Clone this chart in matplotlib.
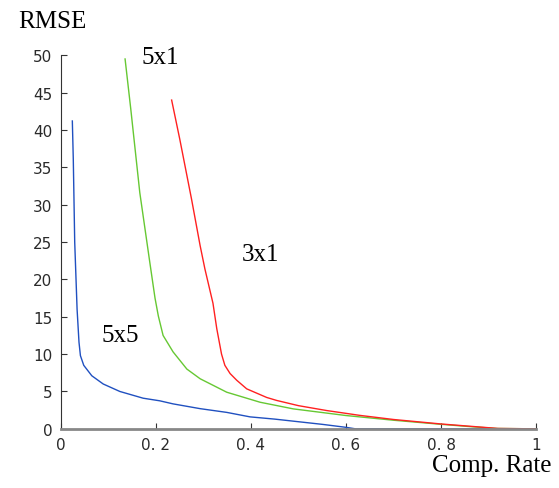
import numpy as np
import matplotlib.pyplot as plt

# RMSE vs compression rate
rate_5x5 = [0.024, 0.026, 0.029, 0.034, 0.038, 0.041, 0.048, 0.065, 0.089, 0.124,
            0.173, 0.208, 0.236, 0.293, 0.349, 0.398, 0.450, 0.500, 0.550, 0.600,
            0.620, 1.000]
rmse_5x5 = [41.2, 36.1, 25.0, 16.0, 11.6, 9.8, 8.5, 7.1, 6.0, 5.0,
            4.1, 3.75, 3.34, 2.7, 2.2, 1.6, 1.3, 0.95, 0.6, 0.2,
            0.0, 0.0]

rate_5x1 = [0.135, 0.147, 0.166, 0.187, 0.198, 0.205, 0.215, 0.236, 0.265, 0.293,
            0.349, 0.419, 0.489, 0.600, 0.700, 0.797, 0.860, 0.917, 1.000]
rmse_5x1 = [49.5, 42.8, 31.6, 22.3, 17.5, 15.1, 12.5, 10.3, 8.0, 6.7,
            4.9, 3.56, 2.67, 1.78, 1.15, 0.62, 0.3, 0.05, 0.0]

rate_3x1 = [0.233, 0.250, 0.275, 0.293, 0.303, 0.320, 0.328, 0.338, 0.345, 0.356,
            0.370, 0.391, 0.433, 0.454, 0.500, 0.559, 0.629, 0.700, 0.800, 0.920,
            1.000]
rmse_3x1 = [44.0, 38.8, 30.7, 24.5, 21.4, 16.8, 13.4, 10.0, 8.5, 7.4,
            6.5, 5.35, 4.2, 3.8, 3.1, 2.45, 1.8, 1.25, 0.65, 0.05,
            0.0]

x_ticks = [0, 0.2, 0.4, 0.6, 0.8, 1]
x_tick_labels = ["0", "0. 2", "0. 4", "0. 6", "0. 8", "1"]
y_ticks = [0, 5, 10, 15, 20, 25, 30, 35, 40, 45, 50]

fig = plt.figure(figsize=(5.59, 4.89), dpi=100)
ax = fig.add_axes([0.109, 0.121, 0.850, 0.764])

ax.plot(rate_5x5, rmse_5x5, color="#2050c0", lw=1.0)
ax.plot(rate_5x1, rmse_5x1, color="#66c833", lw=1.0)
ax.plot(rate_3x1, rmse_3x1, color="#ff2020", lw=1.0)

ax.set_xlim(0, 1)
ax.set_ylim(0, 50)
ax.set_xticks(x_ticks)
ax.set_xticklabels(x_tick_labels)
ax.set_yticks(y_ticks)
ax.tick_params(direction="in", length=4, labelsize=11, labelcolor="#2a2a2a",
               color="#333333", pad=6)
for s in ["top", "right"]:
    ax.spines[s].set_visible(False)
ax.spines["left"].set_color("#333333")
ax.spines["bottom"].set_color("#888888")
ax.spines["bottom"].set_linewidth(2)

serif = "Liberation Serif"
ax.text(0.208, 49.7, "5x1", fontsize=18, family=serif, ha="center", va="center")
ax.text(0.419, 23.4, "3x1", fontsize=18, family=serif, ha="center", va="center")
ax.text(0.124, 12.6, "5x5", fontsize=18, family=serif, ha="center", va="center")
fig.text(0.093, 0.955, "RMSE", fontsize=18, family=serif, ha="center", va="center")
fig.text(0.986, 0.047, "Comp. Rate", fontsize=18, family=serif, ha="right", va="center")

fig.savefig("out.png", dpi=100)
